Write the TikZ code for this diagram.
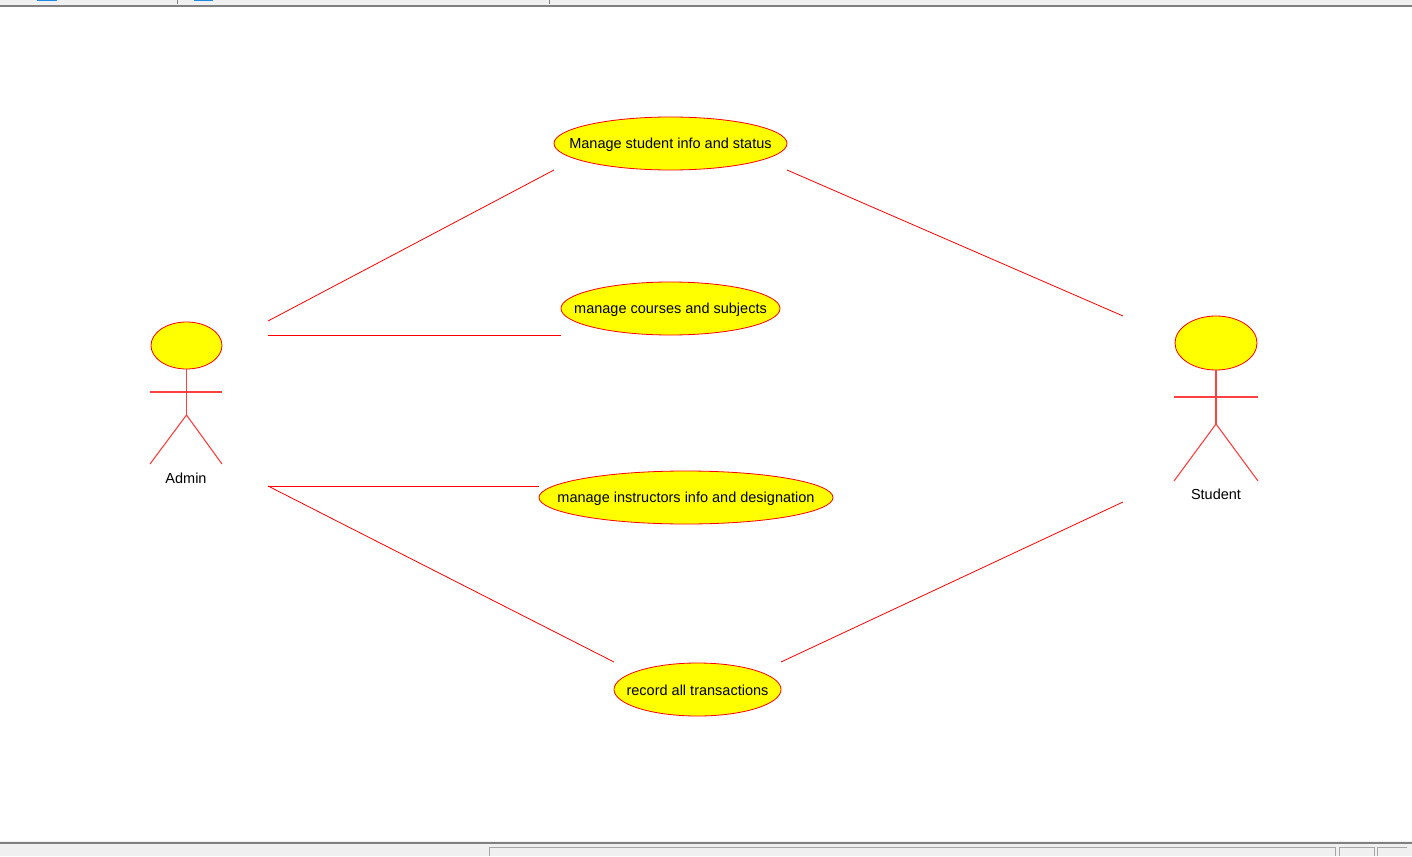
\documentclass[tikz,border=0pt]{standalone}
\usepackage{fontspec}
\setmainfont{Liberation Sans}
\usetikzlibrary{shapes.geometric}
\definecolor{ucred}{HTML}{FF0000}
\definecolor{ucfill}{HTML}{FFFF00}
\definecolor{chrome}{HTML}{F0F0F0}
\definecolor{chromeline}{HTML}{808080}
\definecolor{tabblue}{HTML}{1E88E5}
\begin{document}
\begin{tikzpicture}[x=1pt,y=-1pt,
  usecase/.style={ellipse,draw=ucred,fill=ucfill,line width=0.8pt,inner sep=0pt,
    minimum height=53pt,
    label={[font=\fontsize{14.5}{17}\selectfont,inner sep=0pt,yshift=-1pt]center:#1}},
  link/.style={draw=ucred,line width=0.8pt},
  limb/.style={draw=ucred!75,line width=1.1pt},
  actorhead/.style={ellipse,draw=ucred,fill=ucfill,line width=0.8pt,inner sep=0pt},
  actorname/.style={font=\fontsize{14.5}{17}\selectfont,inner sep=0pt}]
\useasboundingbox (0,0) rectangle (1412,856);
\fill[white] (0,0) rectangle (1412,856);

% window chrome: top toolbar edge
\fill[chrome] (0,0) rectangle (1412,5);
\fill[chromeline] (0,5) rectangle (1412,7);
\fill[tabblue] (37,0) rectangle (57,1);
\fill[tabblue] (194,0) rectangle (213,1);
\draw[chromeline,line width=1pt] (177,0) -- (177,4);
\draw[chromeline,line width=1pt] (549,0) -- (549,4);
% window chrome: bottom status bar
\fill[chrome] (0,841) rectangle (1412,856);
\fill[chromeline] (0,842) rectangle (1412,844);
\draw[chromeline!70,line width=0.8pt] (489,856) -- (489,847) -- (1335,847) -- (1335,856);
\draw[chromeline!70,line width=0.8pt] (1339,856) -- (1339,847) -- (1374,847) -- (1374,856);
\draw[chromeline!70,line width=0.8pt] (1377,856) -- (1377,847) -- (1407,847);

% use cases
\node[usecase={Manage student info and status},minimum width=233pt] (uc1) at (670.5,143.5) {};
\node[usecase={manage courses and subjects},minimum width=219pt] (uc2) at (670.5,308.5) {};
\node[usecase={manage instructors info and designation},minimum width=294pt] (uc3) at (686,497.5) {};
\node[usecase={record all transactions},minimum width=167pt] (uc4) at (697.5,689.5) {};

% actor: Admin
\node[actorhead,minimum width=71pt,minimum height=47pt] (adminhead) at (186.5,345.5) {};
\coordinate (adminhip) at (186.5,415);
\draw[limb] (adminhead.south) -- (adminhip);
\draw[limb] (150,392) -- (222,392);
\draw[limb] (150,464) -- (adminhip) -- (222,464);
\node[actorname] (admin) at (186,478) {Admin};

% actor: Student
\node[actorhead,minimum width=82pt,minimum height=54pt] (studenthead) at (1216,343) {};
\coordinate (studenthip) at (1216,424);
\draw[limb] (studenthead.south) -- (studenthip);
\draw[limb] (1174,397) -- (1258,397);
\draw[limb] (1174,481) -- (studenthip) -- (1258,481);
\node[actorname] (student) at (1216,494) {Student};

% association end points
\coordinate (a1) at (268,321);
\coordinate (a2) at (268,335);
\coordinate (a3) at (268,486);
\coordinate (s1) at (1123,316);
\coordinate (s2) at (1123,502);
\coordinate (u1w) at (554,170);
\coordinate (u1e) at (787,170);
\coordinate (u2w) at (561,335);
\coordinate (u3w) at (539,486);
\coordinate (u4w) at (614,662);
\coordinate (u4e) at (781,662);

% associations
\draw[link] (a1) -- (u1w);
\draw[link] (a2) -- (u2w);
\draw[link] (a3) -- (u3w);
\draw[link] (a3) -- (u4w);
\draw[link] (u1e) -- (s1);
\draw[link] (s2) -- (u4e);
\end{tikzpicture}
\end{document}
